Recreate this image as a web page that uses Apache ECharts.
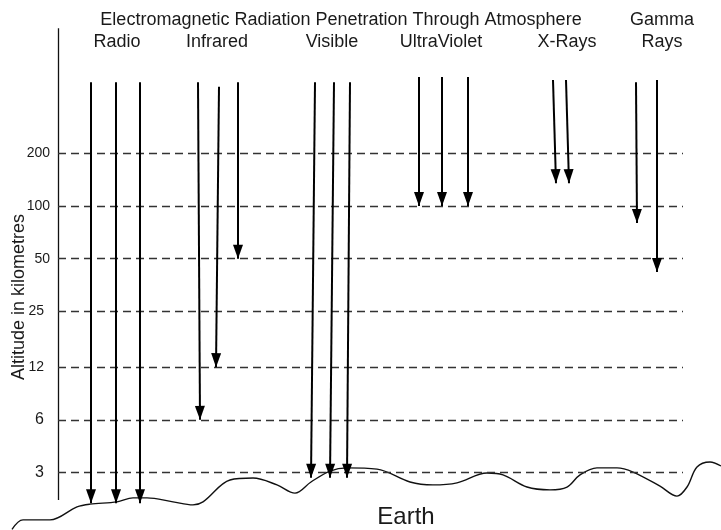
<!DOCTYPE html>
<html><head><meta charset="utf-8">
<script src="https://cdn.jsdelivr.net/npm/echarts@6/dist/echarts.min.js"></script>
<style>html,body{margin:0;padding:0;background:#fff}#c{width:721px;height:530px}</style>
</head><body><div id="c"></div>
<script>
// Altitude levels (km) shown as dashed reference lines
const altitudeTicks = [3, 6, 12, 25, 50, 100, 200];
// Radiation bands and the horizontal position of their labels
const bandNames = ['Radio', 'Infrared', 'Visible', 'UltraViolet', 'X-Rays', 'Gamma\nRays'];
const bandCenters = [59, 159, 274, 383, 509, 604];
// Arrows: horizontal position at top / at tip, altitude at top / at tip (km)
const arrowTopX = [33, 58, 82, 140, 161, 180, 257, 276, 292, 361, 384, 410, 495, 508, 578, 599];
const arrowTipX = [33, 58, 82, 142, 158, 180, 253, 272, 289, 361, 384, 410, 498, 511, 579, 599];
const arrowTopAlt = [510, 510, 510, 510, 480, 510, 510, 510, 510, 545, 545, 545, 525, 525, 510, 525];
const arrowTipAlt = [2, 2, 2, 6, 12, 50, 2.8, 2.8, 2.8, 100, 100, 100, 135, 135, 80, 42];
// Altitude axis extent drawn as the vertical axis line (km)
const axisLineAlt = [2.09, 1035];
// Earth surface profile
const groundX = [-46, -35, -8, 19, 32, 59, 75, 89, 115, 135, 145, 172, 195, 219, 237, 253, 272, 289, 319, 352, 375, 399, 429, 445, 469, 492, 509, 522, 539, 559, 575, 602, 619, 629, 639, 652, 663];
const groundAlt = [1.42, 1.61, 1.61, 1.91, 1.98, 2.04, 2.15, 2.15, 2.04, 1.96, 2.04, 2.72, 2.79, 2.55, 2.29, 2.65, 3.06, 3.19, 3.14, 2.65, 2.55, 2.62, 2.98, 2.91, 2.48, 2.39, 2.48, 2.91, 3.19, 3.19, 3.02, 2.51, 2.20, 2.48, 3.23, 3.45, 3.27];

const FONT = 'Liberation Sans, Arial, Helvetica, sans-serif';
const chart = echarts.init(document.getElementById('c'));

const ground = groundX.map((x, i) => [x, groundAlt[i]]);
const dashed = altitudeTicks.map(v => [
  { coord: [0, v], name: String(v), label: { fontSize: v < 12 ? 16 : 14, distance: v < 50 ? 14 : 8 } },
  { coord: [625, v] }
]);
const arrows = arrowTopX.map((x, i) => [
  { coord: [x, arrowTopAlt[i]] },
  { coord: [arrowTipX[i], arrowTipAlt[i]] }
]);
const bands = bandCenters.map((x, i) => ({
  value: [x, bandNames[i].indexOf('\n') >= 0 ? 1000 : 865],
  name: bandNames[i]
}));

const option = {
  animation: false,
  backgroundColor: '#fff',
  grid: { left: 0, right: 0, top: 28, bottom: 0 },
  xAxis: { type: 'value', min: -58, max: 663, show: false },
  yAxis: {
    type: 'log', logBase: 2, min: 1.4089, max: 1040, show: false
  },
  graphic: [
    { type: 'text', x: 341, y: 20, silent: true,
      style: { text: 'Electromagnetic Radiation Penetration Through Atmosphere', fontSize: 18, fontFamily: FONT, fill: '#1a1a1a',
        textAlign: 'center', textVerticalAlign: 'middle', align: 'center', verticalAlign: 'middle' } },
    { type: 'text', x: 406, y: 517, silent: true,
      style: { text: 'Earth', fontSize: 24, fontFamily: FONT, fill: '#1a1a1a',
        textAlign: 'center', textVerticalAlign: 'middle', align: 'center', verticalAlign: 'middle' } },
    { type: 'text', x: 19, y: 297, rotation: Math.PI / 2, silent: true,
      style: { text: 'Altitude in kilometres', fontSize: 18, fontFamily: FONT, fill: '#1a1a1a',
        textAlign: 'center', textVerticalAlign: 'middle', align: 'center', verticalAlign: 'middle' } }
  ],
  series: [
    { type: 'line', data: ground, smooth: 0.35, symbol: 'none', silent: true,
      lineStyle: { color: '#111', width: 1.4 } },
    { type: 'line', data: [], silent: true,
      markLine: { silent: true, symbol: 'none', animation: false,
        lineStyle: { type: 'solid', color: '#111', width: 1.3 },
        label: { show: false }, emphasis: { disabled: true },
        data: [[{ coord: [0, axisLineAlt[0]] }, { coord: [0, axisLineAlt[1]] }]] } },
    { type: 'line', data: [], silent: true,
      markLine: { silent: true, symbol: 'none', animation: false,
        lineStyle: { type: [8, 5], color: '#333', width: 1.3 },
        label: { show: true, position: 'start', formatter: '{b}', color: '#1a1a1a', fontWeight: 'normal', fontFamily: FONT },
        emphasis: { disabled: true },
        data: dashed } },
    { type: 'line', data: [], silent: true,
      markLine: { silent: true, symbol: ['none', 'triangle'], symbolSize: [10, 14], symbolOffset: [[0, 0], [0, 7]], animation: false,
        lineStyle: { type: 'solid', color: '#000', width: 2 },
        label: { show: false }, emphasis: { disabled: true },
        data: arrows } },
    { type: 'scatter', data: bands, symbolSize: 1, silent: true,
      itemStyle: { color: 'rgba(0,0,0,0)', opacity: 1 },
      label: { show: true, position: 'inside', formatter: '{b}', fontSize: 18, lineHeight: 22, color: '#1a1a1a', opacity: 1, fontFamily: FONT } }
  ]
};
chart.setOption(option);
</script></body></html>
